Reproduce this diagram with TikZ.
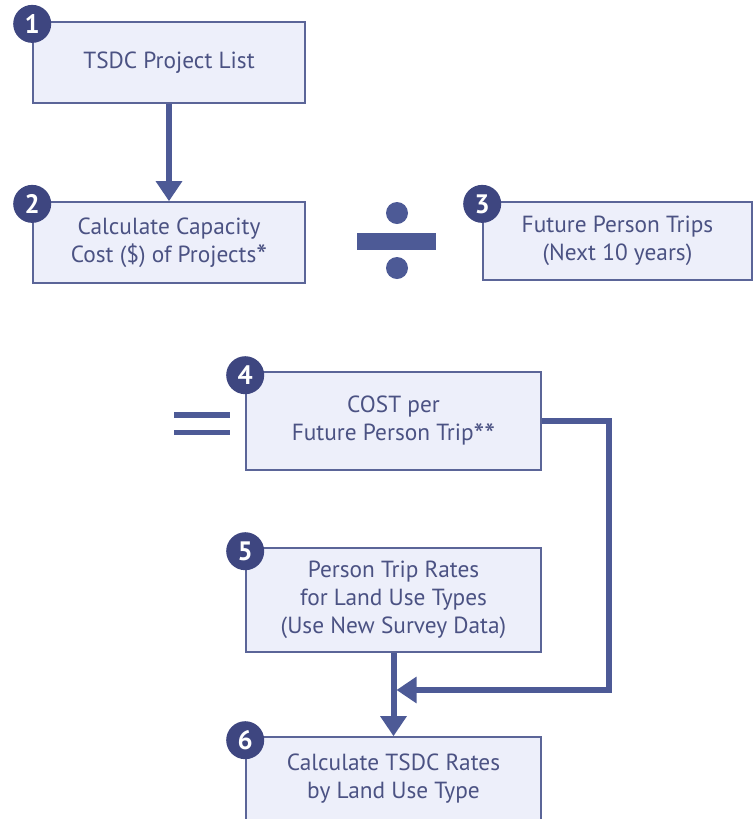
\documentclass[tikz,border=0pt]{standalone}
\usepackage{fontspec}
\setmainfont{PT Sans}
\usetikzlibrary{arrows.meta}
\definecolor{boxfill}{HTML}{EDEFFA}
\definecolor{boxline}{HTML}{5B6598}
\definecolor{txt}{HTML}{4B5283}
\definecolor{navy}{HTML}{3E4680}
\definecolor{flow}{HTML}{4D5A96}
\newcommand{\notemark}[1]{\raisebox{-3.5pt}{\fontsize{23}{21}\selectfont #1}}
\tikzset{
    stepbox/.style={draw=boxline, fill=boxfill, line width=1.2pt, text=txt, align=center,
        inner sep=0pt, font=\fontsize{17.5}{21}\selectfont},
    badge/.style={circle, fill=navy, text=white, minimum size=28.5pt, inner sep=0pt,
        font=\bfseries\fontsize{20}{20}\selectfont},
    flowline/.style={draw=flow, line width=4.5pt},
    flowarrow/.style={flowline, -{Triangle[length=15pt,width=19pt]}},
}
\begin{document}
\begin{tikzpicture}[x=0.75pt, y=-0.75pt]
            \path[use as bounding box, clip] (0,0) rectangle (753,819);
            % steps
            \node[stepbox, minimum width=204pt, minimum height=60.75pt] (list) at (169,62.5) {TSDC Project List};
            \node[stepbox, minimum width=204pt, minimum height=60.75pt] (cost) at (169,242.5) {Calculate Capacity\\Cost (\$) of Projects\notemark{*}};
            \node[stepbox, minimum width=201.75pt, minimum height=58.5pt] (trips) at (617.5,241) {Future Person Trips\\(Next 10 years)};
            \node[stepbox, minimum width=221.25pt, minimum height=73.5pt] (pertrip) at (393.5,421) {COST per\\Future Person Trip\notemark{**}};
            \node[stepbox, minimum width=221.25pt, minimum height=78pt] (rates) at (393.5,600) {Person Trip Rates\\for Land Use Types\\(Use New Survey Data)};
            \node[stepbox, minimum width=221.25pt, minimum height=63pt] (tsdc) at (393.5,779) {Calculate TSDC Rates\\by Land Use Type};
            % numbers
            \node[badge] (n1) at ([yshift=-2pt]list.north west) {1};
            \node[badge] (n2) at ([yshift=-2pt]cost.north west) {2};
            \node[badge] (n3) at ([yshift=-2pt]trips.north west) {3};
            \node[badge] (n4) at ([yshift=-3pt]pertrip.north west) {4};
            \node[badge] (n5) at ([yshift=-3pt]rates.north west) {5};
            \node[badge] (n6) at ([yshift=-3pt]tsdc.north west) {6};
            % divide and equals
            \fill[flow] (357,233) rectangle (436,250);
            \fill[flow] (397,213) circle (11);
            \fill[flow] (397,268) circle (11);
            \fill[flow] (174,412) rectangle (230,417.5);
            \fill[flow] (174,429.5) rectangle (230,435);
            % connectors
            \coordinate (join) at (396.5,690);
            \draw[flowarrow] (list.south) -- (cost.north);
            \draw[flowarrow] (rates.south) -- (tsdc.north);
            \draw[flowarrow] (pertrip.east) -- ++(67,0) |- (join);
        \end{tikzpicture}
\end{document}
